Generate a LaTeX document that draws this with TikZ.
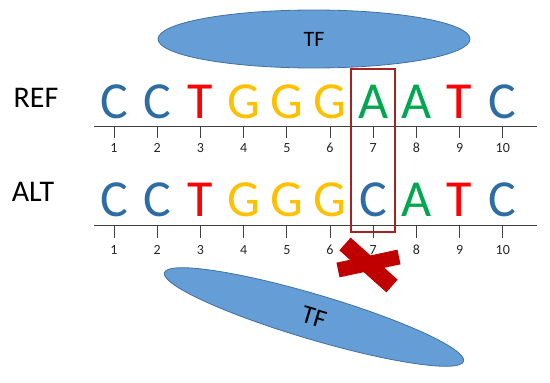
\documentclass[tikz,border=0pt]{standalone}
\usepackage{fontspec}
\setmainfont{Carlito}
\usetikzlibrary{shapes.geometric}
\definecolor{baseblue}{RGB}{46,108,164}
\definecolor{basered}{RGB}{255,0,0}
\definecolor{baseyellow}{RGB}{255,192,0}
\definecolor{basegreen}{RGB}{0,166,80}
\definecolor{tfblue}{RGB}{101,157,214}
\definecolor{tfedge}{RGB}{65,113,156}
\definecolor{boxred}{RGB}{165,35,35}
\definecolor{crossred}{RGB}{192,0,0}

\begin{document}
\begin{tikzpicture}[x=1pt,y=-1pt,
    base/.style={font=\fontsize{52}{52}\selectfont, inner sep=0pt, anchor=base},
    posnum/.style={font=\fontsize{14}{14}\selectfont, inner sep=0pt, anchor=base, text=black!85},
    seqlabel/.style={font=\fontsize{30}{30}\selectfont, inner sep=0pt, anchor=base},
    tf/.style={ellipse, fill=tfblue, draw=tfedge, line width=0.8pt, inner sep=0pt},
    axis/.style={draw=black!75, line width=1pt},
    tick/.style={draw=black!75, line width=0.8pt}]
    \useasboundingbox (0,0) rectangle (550,383);
    % TF bound to the reference sequence
    \node[tf, minimum width=312pt, minimum height=58pt] (tftop) at (314,39) {\fontsize{22}{22}\selectfont TF};
    % sequence labels
    \node[seqlabel] (ref) at (36,107.5) {REF};
    \node[seqlabel] (alt) at (33,201) {ALT};
    % axes
    \coordinate (refl) at (94,126);
    \coordinate (refr) at (537,126);
    \coordinate (altl) at (94,225);
    \coordinate (altr) at (537,225);
    \draw[axis] (refl) -- (refr);
    \draw[axis] (altl) -- (altr);
    % bases and positions
    \foreach \b/\c [count=\i] in {C/baseblue,C/baseblue,T/basered,G/baseyellow,G/baseyellow,G/baseyellow,A/basegreen,A/basegreen,T/basered,C/baseblue} {
      \node[base, text=\c] (ref\i) at ({114+43.2*(\i-1)},118) {\b};
      \draw[tick] ({114+43.2*(\i-1)},126) -- ({114+43.2*(\i-1)},138);
      \node[posnum] (refn\i) at ({114+43.2*(\i-1)},152) {\i};
    }
    \foreach \b/\c [count=\i] in {C/baseblue,C/baseblue,T/basered,G/baseyellow,G/baseyellow,G/baseyellow,C/baseblue,A/basegreen,T/basered,C/baseblue} {
      \node[base, text=\c] (alt\i) at ({114+43.2*(\i-1)},216) {\b};
      \draw[tick] ({114+43.2*(\i-1)},225) -- ({114+43.2*(\i-1)},238);
      \node[posnum] (altn\i) at ({114+43.2*(\i-1)},254) {\i};
    }
    % variant position
    \draw[boxred, line width=1.6pt] (351,69) rectangle (395,232);
    % cross
    \coordinate (xa) at (345,244);
    \coordinate (xb) at (392,286);
    \coordinate (xc) at (338,270);
    \coordinate (xd) at (399,257);
    \draw[crossred, line width=17pt] (xa) -- (xb);
    \draw[crossred, line width=15pt] (xc) -- (xd);
    % TF no longer bound
    \node[tf, minimum width=312pt, minimum height=45pt, rotate=-16.5] (tfbot) at (314,317) {\fontsize{26}{26}\selectfont TF};
  \end{tikzpicture}
\end{document}
